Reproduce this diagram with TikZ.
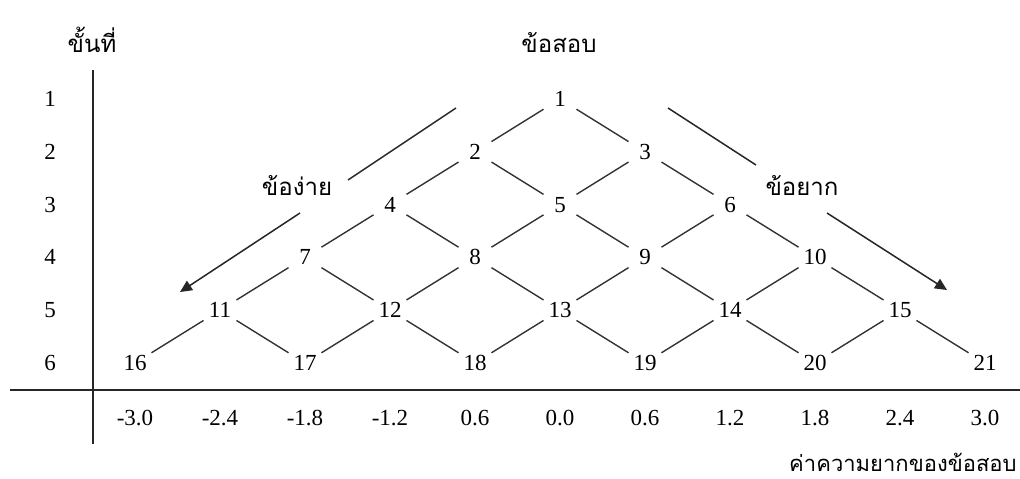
\documentclass[tikz,border=0pt]{standalone}
\usepackage{fontspec}
\setmainfont{Liberation Serif}
\newfontfamily\thaifont[Script=Thai]{Loma}
\usetikzlibrary{arrows.meta}

\begin{document}
\begin{tikzpicture}[x=0.5pt, y=-0.5pt, font=\fontsize{11.5}{13}\selectfont,
    item/.style={circle, minimum size=19pt, inner sep=0pt},
    link/.style={draw=black!80, line width=0.7pt},
    axis/.style={draw=black!85, line width=0.9pt},
    trend/.style={draw=black!85, line width=0.75pt},
    tip/.style={-{Triangle[length=6pt, width=5.5pt]}},
    thai/.style={font=\thaifont\fontsize{12}{14}\selectfont, anchor=base}]

    \useasboundingbox (0,0) rectangle (1020,478);

    % axes
    \coordinate (yTop) at (93,70);
    \coordinate (yBot) at (93,444);
    \coordinate (xLeft) at (10,390);
    \coordinate (xRight) at (1020,390);
    \draw[axis] (yTop) -- (yBot);
    \draw[axis] (xLeft) -- (xRight);

    % items, row by row
    \foreach \r in {1,...,6} {
        \node (row\r) at (50, {99+52.8*(\r-1)}) {\r};
        \foreach \i in {1,...,\r} {
            \pgfmathtruncatemacro\n{\r*(\r-1)/2+\i}
            \node[item] (q\n) at ({135+85*(6-\r+2*(\i-1))}, {99+52.8*(\r-1)}) {\n};
        }
    }

    % each item leads to the two items below it
    \foreach \r in {1,...,5} {
        \foreach \i in {1,...,\r} {
            \pgfmathtruncatemacro\n{\r*(\r-1)/2+\i}
            \pgfmathtruncatemacro\lo{\n+\r}
            \pgfmathtruncatemacro\hi{\n+\r+1}
            \draw[link] (q\n) -- (q\lo);
            \draw[link] (q\n) -- (q\hi);
        }
    }

    % difficulty scale
    \foreach \v [count=\k from 0] in {-3.0,-2.4,-1.8,-1.2,0.6,0.0,0.6,1.2,1.8,2.4,3.0}
        \node (tick\k) at ({135+85*\k}, 418) {\v};

    % headings
    \node[thai] (stage) at (92,52) {ขั้นที่};
    \node[thai] (title) at (559,52) {ข้อสอบ};
    \node[thai] (easy) at (297,195) {ข้อง่าย};
    \node[thai] (hard) at (802,195) {ข้อยาก};
    \node[thai, anchor=base east, inner sep=0pt, font=\thaifont\fontsize{11}{13}\selectfont]
        (scale) at (1017,471) {ค่าความยากของข้อสอบ};

    % easy / hard trend arrows
    \coordinate (easyA) at (456,108);
    \coordinate (easyB) at (348,180);
    \coordinate (easyC) at (300,213);
    \coordinate (easyD) at (180,292);
    \coordinate (hardA) at (668,108);
    \coordinate (hardB) at (756,165);
    \coordinate (hardC) at (827,213);
    \coordinate (hardD) at (947,290);
    \draw[trend] (easyA) -- (easyB);
    \draw[trend, tip] (easyC) -- (easyD);
    \draw[trend] (hardA) -- (hardB);
    \draw[trend, tip] (hardC) -- (hardD);
\end{tikzpicture}
\end{document}
